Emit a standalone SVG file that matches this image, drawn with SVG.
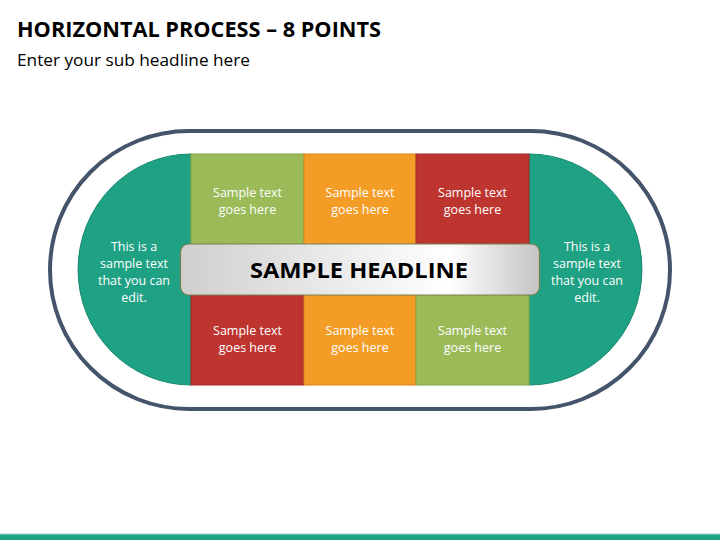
<svg xmlns="http://www.w3.org/2000/svg" width="720" height="540" viewBox="0 0 720 540">
<defs>
<style>
.t{font-family:"Open Sans","Liberation Sans",sans-serif;fill:#fff;font-size:12.5px;text-anchor:middle}
.box{stroke-width:1}
</style>
<linearGradient id="hg" x1="0" y1="0" x2="1" y2="0">
<stop offset="0" stop-color="#cfcfcf"/>
<stop offset="0.75" stop-color="#ffffff"/>
<stop offset="1" stop-color="#c4c4c4"/>
</linearGradient>
</defs>
<rect width="720" height="540" fill="#fff"/>
<text x="17" y="37" font-family="Open Sans, Liberation Sans, sans-serif" font-weight="bold" font-size="21" textLength="364" lengthAdjust="spacingAndGlyphs" fill="#000">HORIZONTAL PROCESS – 8 POINTS</text>
<text x="17" y="66" font-family="Open Sans, Liberation Sans, sans-serif" font-size="16.5" textLength="233" lengthAdjust="spacingAndGlyphs" fill="#000">Enter your sub headline here</text>
<rect x="0" y="534" width="720" height="6" fill="#1fa184"/>
<rect x="0" y="533.5" width="720" height="1" fill="#9fd6c8"/>

<g id="track">
<rect x="50" y="131" width="620" height="278" rx="139" ry="139" fill="none" stroke="#44546a" stroke-width="4"/>
</g>

<g id="left-cap">
<path d="M191,154 A113,115.5 0 0 0 191,385 Z" fill="#1fa184" stroke="#178a70" stroke-width="1"/>
<text class="t"><tspan x="134" y="251">This is a</tspan><tspan x="134" y="268">sample text</tspan><tspan x="134" y="285">that you can</tspan><tspan x="134" y="302">edit.</tspan></text>
</g>
<g id="right-cap">
<path d="M529,154 A113,115.5 0 0 1 529,385 Z" fill="#1fa184" stroke="#178a70" stroke-width="1"/>
<text class="t"><tspan x="587" y="251">This is a</tspan><tspan x="587" y="268">sample text</tspan><tspan x="587" y="285">that you can</tspan><tspan x="587" y="302">edit.</tspan></text>
</g>

<g id="box-t1">
<rect class="box" x="191" y="154" width="113" height="100" fill="#9bbb59" stroke="#87a548"/>
<text class="t"><tspan x="247.5" y="197">Sample text</tspan><tspan x="247.5" y="214">goes here</tspan></text>
</g>
<g id="box-t2">
<rect class="box" x="304" y="154" width="112" height="100" fill="#f39c26" stroke="#d9861a"/>
<text class="t"><tspan x="360" y="197">Sample text</tspan><tspan x="360" y="214">goes here</tspan></text>
</g>
<g id="box-t3">
<rect class="box" x="416" y="154" width="113" height="100" fill="#be3530" stroke="#a52b27"/>
<text class="t"><tspan x="472.5" y="197">Sample text</tspan><tspan x="472.5" y="214">goes here</tspan></text>
</g>
<g id="box-b1">
<rect class="box" x="191" y="285" width="113" height="100" fill="#be3530" stroke="#a52b27"/>
<text class="t"><tspan x="247.5" y="335">Sample text</tspan><tspan x="247.5" y="352">goes here</tspan></text>
</g>
<g id="box-b2">
<rect class="box" x="304" y="285" width="112" height="100" fill="#f39c26" stroke="#d9861a"/>
<text class="t"><tspan x="360" y="335">Sample text</tspan><tspan x="360" y="352">goes here</tspan></text>
</g>
<g id="box-b3">
<rect class="box" x="416" y="285" width="113" height="100" fill="#9bbb59" stroke="#87a548"/>
<text class="t"><tspan x="472.5" y="335">Sample text</tspan><tspan x="472.5" y="352">goes here</tspan></text>
</g>

<g id="headline">
<rect x="180.5" y="244" width="359" height="51" rx="8" ry="8" fill="url(#hg)" stroke="#76804f" stroke-width="1.2"/>
<text x="359" y="278" font-family="Open Sans, Liberation Sans, sans-serif" font-weight="bold" font-size="21" text-anchor="middle" textLength="218" lengthAdjust="spacingAndGlyphs" fill="#000">SAMPLE HEADLINE</text>
</g>
<g id="connectors"/>
</svg>
